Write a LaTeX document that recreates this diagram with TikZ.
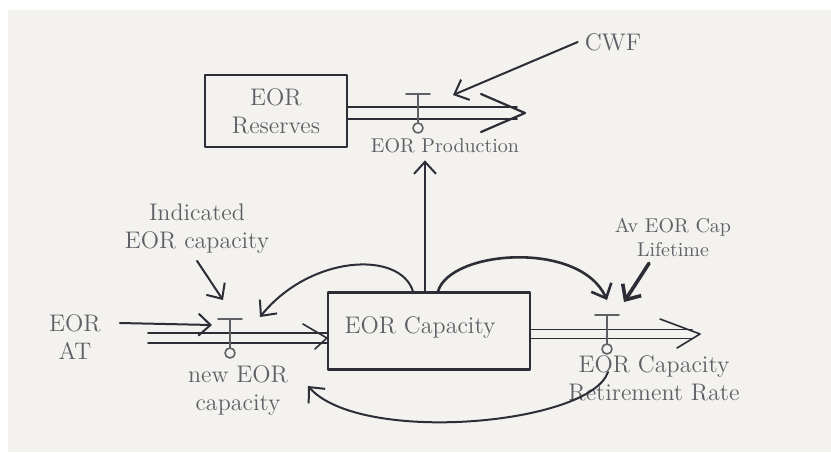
\documentclass[tikz,border=0pt]{standalone}
\usepackage{tikz}
\usetikzlibrary{positioning}
\usetikzlibrary{calc}
\usetikzlibrary{arrows.meta}

\definecolor{paper}{RGB}{243,242,238}
\definecolor{ink}{RGB}{45,45,55}
\definecolor{pencil}{RGB}{95,95,102}

\tikzset{
  stock/.style={draw=ink, line width=1.1pt, inner sep=0pt},
  pipe/.style={draw=ink, line width=0.8pt},
  valvestroke/.style={draw=pencil, line width=0.8pt},
  link/.style={draw=ink, line width=1pt, -{Straight Barb[length=6pt,width=11pt]}},
  boldlink/.style={draw=ink, line width=1.8pt, -{Straight Barb[length=6pt,width=11pt]}},
  note/.style={text=pencil, align=center}
}

% T bar above the pipe, stem through it, small circle below
\newcommand{\drawvalve}[1]{%
  \draw[valvestroke] ($(#1)+(-12,-19)$) -- ($(#1)+(12,-19)$);
  \draw[valvestroke] ($(#1)+(0,-19)$) -- ($(#1)+(0,10)$);
  \draw[valvestroke] ($(#1)+(0,15)$) circle (2.5pt);
}

\begin{document}
\begin{tikzpicture}[x=0.5pt, y=-0.5pt, line cap=round, line join=round]
  \useasboundingbox (0,0) rectangle (831,452);
  \fill[white] (0,0) rectangle (831,452);
  \fill[paper] (8,10) rectangle (831,452);

  % stocks
  \node[stock, minimum width=71pt, minimum height=36pt, text=pencil, align=center, font=\large] (reserves) at (276,111) {EOR\\Reserves};
  \node[stock, minimum width=101pt, minimum height=38.5pt] (capacity) at (429,331) {};
  \node[note, font=\large] (capacitytext) at (420,327) {EOR Capacity};

  % flow ends and valves
  \coordinate (prodend) at (525,113);
  \coordinate (vprod) at (418,113);
  \coordinate (newstart) at (148,338);
  \coordinate (vnew) at (230,338);
  \coordinate (retend) at (700,334);
  \coordinate (vret) at (607,334);

  % production pipe
  \draw[pipe] ($(reserves.east |- prodend)+(0,-6)$) -- ($(prodend)+(-8,-6)$);
  \draw[pipe] ($(reserves.east |- prodend)+(0,6)$) -- ($(prodend)+(-8,6)$);
  \draw[pipe, line width=1.1pt] ($(prodend)+(-44,-19)$) -- (prodend) -- ($(prodend)+(-44,19)$);
  \drawvalve{vprod}

  % new capacity pipe
  \draw[pipe] ($(newstart)+(0,-5)$) -- ($(capacity.west |- newstart)+(0,-5)$);
  \draw[pipe] ($(newstart)+(0,5)$) -- ($(capacity.west |- newstart)+(0,5)$);
  \draw[pipe] ($(capacity.west |- newstart)+(-24,-14)$) -- (capacity.west |- newstart) -- ($(capacity.west |- newstart)+(-12,11)$);
  \drawvalve{vnew}

  % retirement pipe
  \draw[pipe] ($(capacity.east |- retend)+(0,-4.5)$) -- ($(retend)+(-8,-4.5)$);
  \draw[pipe] ($(capacity.east |- retend)+(0,4.5)$) -- ($(retend)+(-8,4.5)$);
  \draw[pipe] ($(retend)+(-40,-15)$) -- (retend) -- ($(retend)+(-23,14)$);
  \drawvalve{vret}

  % labels
  \node[note] (prodlabel) at (445,146) {EOR Production};
  \node[note, font=\large] (cwf) at (613,42) {CWF};
  \node[note, font=\large] (indicated) at (197,229) {Indicated\\EOR capacity};
  \node[note, font=\large] (eorat) at (75,337) {EOR\\AT};
  \node[note, font=\large] (newlabel) at (238,390) {new EOR\\capacity};
  \node[note] (lifetime) at (673,237) {Av EOR Cap\\Lifetime};
  \node[note, font=\large] (retlabel) at (654,378) {EOR Capacity\\Retirement Rate};

  % arrow tips
  \coordinate (cwftip) at (453,95);
  \coordinate (indtip) at (223,300);
  \coordinate (attip) at (212,325);
  \coordinate (looptip) at (260,317);
  \coordinate (lifetip) at (607,300);
  \coordinate (ltip) at (624,302);
  \coordinate (backtip) at (308,386);
  \coordinate (retstart) at (608,372);

  % connectors
  \draw[link] (cwf.west) -- (cwftip);
  \draw[link] ([xshift=-2pt]capacity.north) -- ([xshift=-2pt]capacity.north |- prodlabel.south);
  \draw[link] (indicated.south) -- (indtip);
  \draw[link] ([xshift=6pt,yshift=7pt]eorat.east) -- (attip);
  \draw[link] ([xshift=-8pt]capacity.north) .. controls (400,250) and (310,255) .. (looptip);
  \draw[link, line width=1.3pt] ([xshift=4.5pt]capacity.north) .. controls (450,250) and (580,240) .. (lifetip);
  \draw[boldlink] ([xshift=-12pt]lifetime.south) -- (ltip);
  \draw[link] (retstart) .. controls (590,425) and (360,445) .. (backtip);
\end{tikzpicture}
\end{document}
